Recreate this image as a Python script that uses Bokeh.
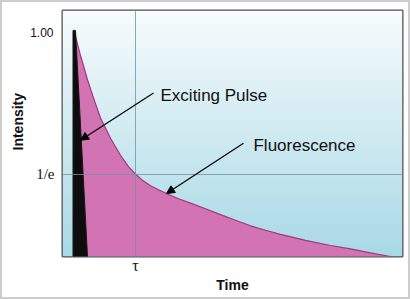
import numpy as np
from math import e
from bokeh.plotting import figure
from bokeh.models import (Range1d, FixedTicker, Label, Arrow, NormalHead, LinearAxis, Title)
from bokeh.embed import file_html
from bokeh.resources import INLINE

# ---- data (time in units of tau, intensity normalised) ----
time = [0.0, 0.098, 0.213, 0.311, 0.426, 0.590, 0.754, 0.885, 1.0, 1.115, 1.246, 1.377,
        1.525, 1.705, 1.902, 2.148, 2.393, 2.639, 2.885, 3.131, 3.377, 3.787, 4.197,
        4.525, 4.852, 5.180]
fluorescence = [1.0, 0.897, 0.789, 0.708, 0.618, 0.528, 0.452, 0.401, 0.368, 0.340, 0.316, 0.298,
                0.279, 0.258, 0.238, 0.213, 0.187, 0.162, 0.137, 0.117, 0.099, 0.072, 0.049,
                0.034, 0.016, 0.0]
pulse_time = [-0.025, -0.025, 0.016, 0.213]
pulse_intensity = [0.0, 1.009, 1.009, 0.0]

inv_e = 1 / e
tau = 1.0
y_tick_one = [1.0]
y_tick_one_label = {1: "1.00"}
y_tick_e = [inv_e]
y_tick_e_label = {inv_e: "1/e"}
x_tick_labels = {1: "τ"}
x_range = (-0.197, 5.377)
y_range = (0.0, 1.098)

# annotation anchors (data units)
pulse_arrow = dict(x_start=1.295, y_start=0.730, x_end=0.098, y_end=0.519)
fluor_arrow = dict(x_start=2.770, y_start=0.506, x_end=1.508, y_end=0.281)
pulse_text_pos = (1.41, 0.720)
fluor_text_pos = (2.934, 0.497)

p = figure(width=410, height=299, output_backend="svg", toolbar_location=None,
           x_range=Range1d(*x_range), y_range=Range1d(*y_range),
           min_border_left=60, min_border_right=10, min_border_top=8, min_border_bottom=45)
p.styles = {"border": "2px solid #cdcdcd"}
p.border_fill_color = "white"
p.outline_line_color = "#4f4f4f"
p.outline_line_width = 2

# gradient background of the plot area
n = 240
top = np.array([248, 252, 253], dtype=float)
bot = np.array([168, 217, 230], dtype=float)
frac = np.linspace(0, 1, n)[:, None]
rgb = (bot + (top - bot) * frac).astype(np.uint8)
img = np.empty((n, 1), dtype=np.uint32)
view = img.view(dtype=np.uint8).reshape((n, 1, 4))
view[:, 0, 0] = rgb[:, 0]
view[:, 0, 1] = rgb[:, 1]
view[:, 0, 2] = rgb[:, 2]
view[:, 0, 3] = 255
p.image_rgba(image=[img], x=x_range[0], y=y_range[0], dw=x_range[1] - x_range[0],
             dh=y_range[1] - y_range[0], level="image")

# fluorescence decay
p.varea(x=time, y1=0, y2=fluorescence, fill_color="#d274b4")
p.line(x=time, y=fluorescence, line_color="#a0387a", line_width=1.2)

# exciting pulse
p.patch(x=pulse_time, y=pulse_intensity, fill_color="#0d0d0d", line_color="#1a1a1a", line_width=1)

# grid
p.xgrid.ticker = FixedTicker(ticks=[tau])
p.ygrid.ticker = FixedTicker(ticks=[inv_e])
for g in (p.xgrid, p.ygrid):
    g.grid_line_color = "#6f95a3"
    g.grid_line_alpha = 0.8
    g.grid_line_width = 1
    g.level = "guide"

# axes
def plain(ax):
    ax.axis_line_color = None
    ax.major_tick_line_color = None
    ax.minor_tick_line_color = None
    ax.major_tick_out = 0
    ax.major_tick_in = 0
    ax.major_label_text_color = "#111111"

yax = p.yaxis[0]
yax.ticker = FixedTicker(ticks=y_tick_e)
yax.major_label_overrides = y_tick_e_label
plain(yax)
yax.major_label_text_font = "Liberation Serif"
yax.major_label_text_font_size = "15px"
yax.major_label_standoff = 8

yax2 = LinearAxis(ticker=FixedTicker(ticks=y_tick_one), major_label_overrides=y_tick_one_label)
plain(yax2)
yax2.major_label_text_font = "Liberation Sans"
yax2.major_label_text_font_size = "12px"
yax2.major_label_standoff = -20
p.add_layout(yax2, "left")

p.add_layout(Title(text="Intensity", align="left", offset=106, standoff=3,
                   text_font="Liberation Sans", text_font_size="14px",
                   text_font_style="bold", text_color="#111111"), "left")

p.xaxis.ticker = FixedTicker(ticks=[tau])
p.xaxis.major_label_overrides = x_tick_labels
plain(p.xaxis[0])
p.xaxis.major_label_text_font = "Liberation Serif"
p.xaxis.major_label_text_font_size = "16px"
p.xaxis.major_label_standoff = 0
p.xaxis.axis_label = "Time"
p.xaxis.axis_label_text_font = "Liberation Sans"
p.xaxis.axis_label_text_font_size = "14px"
p.xaxis.axis_label_text_font_style = "bold"
p.xaxis.axis_label_text_color = "#111111"
p.xaxis.axis_label_standoff = 0

# annotations
for arr in (pulse_arrow, fluor_arrow):
    p.add_layout(Arrow(end=NormalHead(size=8, fill_color="black", line_color="black", line_width=1),
                       line_color="black", line_width=1.2, **arr))
p.add_layout(Label(x=pulse_text_pos[0], y=pulse_text_pos[1], text="Exciting Pulse",
                   text_align="left", text_baseline="alphabetic", text_font="Liberation Sans",
                   text_font_size="17px", text_color="#111111"))
p.add_layout(Label(x=fluor_text_pos[0], y=fluor_text_pos[1], text="Fluorescence",
                   text_align="left", text_baseline="alphabetic", text_font="Liberation Sans",
                   text_font_size="17px", text_color="#111111"))

open("out.html", "w").write(file_html(p, INLINE))
